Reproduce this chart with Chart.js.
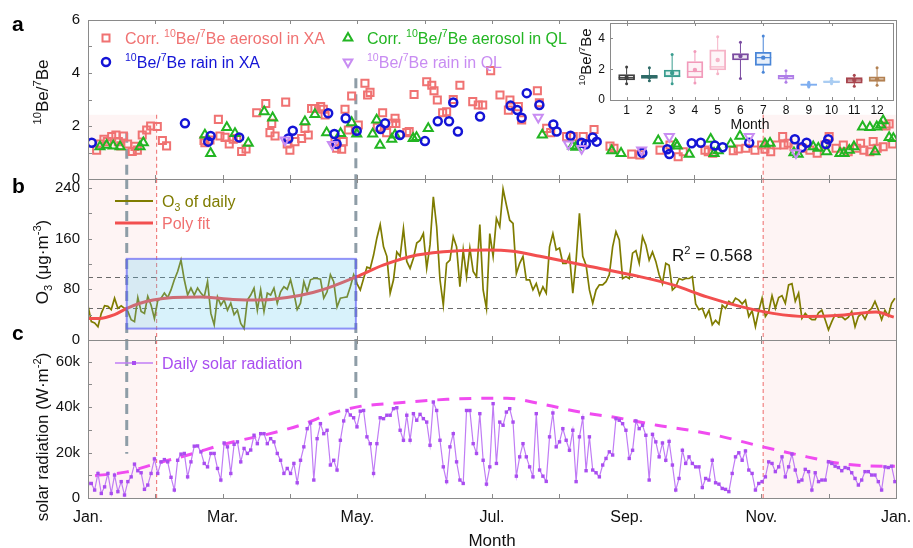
<!DOCTYPE html>
<html lang="en">
<head>
<meta charset="UTF-8">
<title>10Be/7Be, O3 and solar radiation</title>
<script src="https://cdn.jsdelivr.net/npm/chart.js@4.4.1/dist/chart.umd.min.js"></script>
<style>
  html, body { margin: 0; padding: 0; background: #fff; }
  .wrap { position: relative; width: 913px; height: 548px; overflow: hidden; }
  .wrap canvas { position: absolute; left: 0; top: 0; }
</style>
</head>
<body>
<div class="wrap">
  <canvas id="panelA" width="913" height="548"></canvas>
  <canvas id="panelB" width="913" height="548"></canvas>
  <canvas id="panelC" width="913" height="548"></canvas>
  <canvas id="inset" width="913" height="548"></canvas>
</div>
<script>
// ---- x axis: day of year, one tick per month ----
const YEAR_DAYS = 365;
const X_TICK_LABELS = ['Jan.', '', 'Mar.', '', 'May.', '', 'Jul.', '', 'Sep.', '', 'Nov.', '', 'Jan.'];

// ---- panel a: 10Be/7Be ratios, [day, ratio] ----
const aerosolXA = [[3.9,1.09],[5.4,1.32],[7.2,1.50],[8.7,1.41],[10.7,1.60],[12.6,1.66],[13.7,1.41],[14.8,1.25],[16.0,1.62],[17.9,1.32],[20.0,1.04],[21.2,1.23],[22.3,1.09],[24.5,1.66],[26.5,1.85],[28.3,2.00],[31.3,1.98],[33.6,1.45],[35.5,1.25],
  [52.4,1.45],[52.8,1.37],[55.1,1.47],[58.9,2.25],[59.6,1.62],[61.9,1.57],[63.8,1.32],[65.6,1.50],[67.2,1.53],[69.4,1.04],[71.4,1.13],[76.2,2.50],[80.3,2.85],[82.2,1.75],[83.0,2.10],[84.5,1.62],[89.3,2.90],[90.0,1.32],[91.2,1.09],[93.5,1.41],
  [96.5,1.53],[98.0,1.91],[99.5,1.66],[101.0,2.66],[102.5,2.66],[105.1,2.73],[106.3,2.63],[107.1,2.42],[111.6,1.41],[112.3,1.16],[114.6,1.12],[115.3,1.41],[116.1,2.63],[117.6,1.85],[119.1,3.13],[122.1,2.04],[125.1,3.61],[126.3,3.17],[127.4,3.27],[130.7,1.95],[133.1,2.50],[134.9,1.75],[137.6,2.10],[138.7,2.29],[139.1,2.10],[144.0,1.75],[145.1,1.79],[147.3,3.19],[153.0,3.67],[155.3,3.54],[156.3,3.33],[157.8,2.98],[160.2,2.50],[162.0,2.54],[165.0,3.00],[168.0,3.54],[173.8,2.92],[176.3,2.79],[178.3,2.79],[181.9,4.09],[186.1,3.17],[189.9,2.60],[190.6,2.98],[194.4,2.73],[195.9,2.23],[203.0,3.33],[203.9,2.88],[207.2,1.91],[209.0,1.75],[216.2,1.60],[219.2,1.60],[223.7,1.60],[228.6,1.87],[235.8,1.24],[237.6,1.16],
  [245.6,0.94],[249.3,0.91],[258.4,1.09],[262.9,1.28],[266.6,0.84],[268.9,1.03],[278.7,1.09],[280.2,1.03],[282.2,0.97],[291.5,1.07],[293.7,1.13],[297.2,1.16],[301.3,1.09],[304.3,1.28],[305.8,1.12],[308.4,1.03],[311.1,1.28],[313.8,1.60],[314.4,1.28],[316.3,1.35],[318.9,1.22],[322.8,1.16],[326.1,1.09],[329.4,0.97],[332.9,1.28],[334.8,1.60],[337.9,1.16],[341.2,1.28],[343.4,1.03],[347.2,1.16],[349.0,1.35],[350.5,1.09],[353.2,1.03],[354.7,1.41],[356.5,1.16],[359.2,1.22],[360.5,2.00],[361.9,2.08],[363.5,1.32]];
const rainXA = [[1.7,1.37],[43.8,2.10],[54.3,1.41],[55.4,1.62],[68.3,1.57],[90.5,1.53],[92.5,1.82],[108.5,2.48],[111.3,1.70],[112.3,1.32],[116.4,2.29],[121.4,1.82],[132.2,1.89],[134.2,2.10],[140.9,1.66],[152.2,1.43],[158.0,2.18],[163.1,2.18],[165.0,2.89],[167.1,1.79],[177.1,2.36],[190.9,2.77],[193.9,2.60],[195.9,2.31],[198.2,3.24],[203.9,2.79],[210.2,2.06],[211.7,1.79],[218.0,1.63],[223.0,1.37],[224.9,1.31],[228.0,1.57],[229.8,1.41],[250.4,0.99],[261.7,1.12],[262.6,0.94],[272.7,1.35],[276.8,1.37],[283.2,1.26],[286.7,1.20],[298.7,1.37],[319.3,1.50],[322.4,1.20],[324.6,1.37],[333.4,1.32],[334.4,1.50]];
const aerosolQL = [[5.4,1.22],[8.4,1.28],[11.4,1.25],[14.5,1.22],[23.5,1.22],[25.0,1.37],[52.8,1.66],[55.4,0.97],[62.7,1.95],[66.4,1.72],[72.4,1.35],[79.6,2.54],[83.4,2.31],[98.0,2.16],[102.5,2.44],[107.8,1.75],[114.1,1.72],[119.1,2.13],[121.4,1.70],[128.6,1.70],[130.4,2.23],[131.9,1.28],[137.2,1.50],[138.7,1.66],[146.9,1.53],[148.4,1.57],[153.7,1.91],[205.2,1.66],[218.9,1.25],[220.4,1.20],[236.6,1.07],[240.8,0.97],[257.6,1.45],[265.5,1.32],[266.2,1.25],[271.6,0.94],[281.3,1.50],[282.8,0.97],[284.7,1.07],[290.3,1.32],[294.5,1.62],[305.8,1.32],[308.1,1.35],[318.9,0.99],[320.8,0.94],[327.6,1.22],[329.9,1.16],[333.7,1.03],[339.7,0.97],[341.5,0.97],[343.9,1.09],[346.0,1.22],[349.9,1.97],[353.2,1.95],[355.5,1.03],[356.3,1.97],[358.1,2.04],[359.2,2.20],[361.9,1.57],[363.8,1.53]];
const rainQL = [[89.0,1.47],[110.4,1.30],[203.4,2.33],[217.0,1.32],[223.0,1.15],[250.1,1.09],[262.6,1.60],[298.7,1.60],[319.8,0.99]];

// ---- panel b: O3 (ug/m3), one value every 1.5 days from Jan 1 ----
const O3_STEP_DAYS = 1.5;
const o3Daily = [54,29,27,21,42,54,53,48,66,50, 54,50,45,32,29,67,45,42,69,55, 34,62,66,74,67,79,95,108,126,95,
  71,82,71,82,74,68,92,42,24,68, 55,63,47,58,40,47,26,18,63,71, 82,47,79,45,74,71,82,58,76,84,
  80,95,74,48,58,92,76,95,97,97, 96,66,76,103,92,52,66,67,68,84, 103,89,79,97,115,113,134,161,182,147,
  132,74,95,139,132,176,124,113,129,153, 157,168,113,150,226,179,95,55,121,126, 163,147,84,142,100,145,108,100,182,79,
  50,168,132,192,179,238,213,189,184,105, 121,132,95,95,79,89,71,84,74,147, 168,142,145,121,121,134,74,126,200,132,
  118,79,58,79,87,87,92,103,147,171, 158,97,100,97,137,141,121,163,150,126, 139,124,103,89,121,118,79,84,97,95,
  97,97,100,57,48,50,36,47,24,31, 25,55,50,61,57,66,63,57,63,37, 46,21,46,66,37,45,70,50,67,70,
  58,87,89,61,74,34,42,36,32,32, 43,47,32,16,29,40,36,37,32,36, 45,21,37,42,33,45,50,61,48,32, 47,38,58,66];
// polynomial fit, [day, O3]
const o3Fit = [[0,34],[5,34],[12,40],[17.6,50],[23.5,58],[29.4,63],[38.4,67],[50.6,68],[65.5,64],[77.7,63],[89.9,67],[101.6,75],[110.7,85],[121.5,100],[133.3,118],[148.6,134],[168,141],[180,142],[192,140],[204.2,132],[226.8,116],[249.3,100],[264.2,87],[279.6,68],[294.5,53],[309.4,42],[324.8,37],[339.7,39],[348,42],[356,44],[364,36]];
const O3_GUIDES = [100, 50];
const O3_WINDOW = { from: 17.5, to: 121, low: 18, high: 128 };
const R2_TEXT = '0.568';

// ---- panel c: solar radiation in thousands of W/m2, every 1.5 days ----
const SOLAR_STEP_DAYS = 1.5;
const solarKilo = [6.4,6.4,3.5,10.8,2.0,4.9,10.8,2.0,10.1,2.8, 7.2,1.3,7.2,9.3,14.9,12.0,11.1,3.8,5.7,10.8,
  17.2,10.8,15.9,16.9,15.9,9.1,3.5,16.6,19.3,19.6, 9.3,15.9,22.8,22.9,20.3,15.2,13.7,19.6,19.6,13.0,
  7.9,24.2,22.5,10.8,23.6,24.7,15.9,21.8,19.6,21.1, 27.6,23.9,28.3,28.3,23.9,26.1,24.7,19.6,16.6,10.8,
  13.0,10.8,15.2,6.7,16.6,22.5,30.5,33.0,7.9,26.1, 32.7,28.3,29.8,14.5,16.6,12.3,25.4,33.9,38.5,36.5,
  35.3,31.3,38.2,38.5,26.9,23.9,10.8,23.9,35.3,34.9, 36.4,36.4,39.3,39.7,29.8,25.4,36.4,25.4,37.1,34.2,
  36.8,34.9,33.4,23.2,42.2,38.5,25.4,13.7,7.2,22.5, 28.3,15.9,7.9,6.4,38.5,38.5,23.9,19.6,37.1,16.6,
  6.1,13.7,41.5,15.2,33.4,32.0,37.8,39.3,33.4,9.6, 18.1,23.9,18.1,13.7,9.3,37.1,12.3,9.6,7.3,26.9,
  37.4,22.5,24.7,30.5,25.4,21.0,29.8,7.2,26.9,35.3, 12.0,26.9,12.3,11.1,9.3,14.5,17.4,20.3,18.9,34.9,
  34.2,32.7,29.8,17.4,21.0,33.9,30.5,32.0,27.6,7.9, 28.0,24.7,18.1,24.2,16.6,24.9,14.5,3.5,8.6,21.0,
  15.2,18.1,15.2,13.7,13.7,4.6,8.6,7.9,16.6,6.7, 6.1,4.2,3.8,2.8,10.8,18.1,19.9,16.6,20.7,12.3,
  10.8,3.5,6.4,7.2,9.3,15.9,15.2,11.6,13.7,18.1, 9.3,13.7,19.3,12.3,7.2,7.9,12.6,11.6,3.5,11.1,
  7.2,7.9,7.9,15.9,15.2,14.0,13.4,12.0,13.4,13.0, 11.1,8.6,5.7,7.9,11.6,11.6,10.1,10.1,7.2,3.5, 13.7,13.4,14.0,7.2];
// upper envelope, [day, kW/m2]
const solarEnvelope = [[3.2,9.8],[17.6,11.5],[31.2,15.3],[44.7,18.8],[62.8,24],[80.9,28],[95.8,32],[110.7,37.4],[122.9,40.3],[137.8,41.7],[162.2,43.4],[180.2,43.9],[189.3,43.9],[204.2,41.5],[222.2,37.8],[239,35.3],[257,32],[272,29.8],[286.8,26.9],[304.9,22.5],[324.8,18.1],[339.7,15.2],[353.2,14.1],[364.5,14.0]];

// ---- shared markers: cold-season bands and the two period dividers (days) ----
const COLD_BANDS = [[0, 31], [305, 365]];
const DIVIDERS = [17.5, 121];

// ---- inset: monthly box plot of 10Be/7Be ----
const boxMonths = [1,2,3,4,5,6,7,8,9,10,11,12];
const boxQ1     = [1.30,1.40,1.50,1.45,1.95,2.60,2.25,1.35,0.95,1.12,1.10,1.20];
const boxMedian = [1.45,1.50,1.55,1.85,2.15,2.95,2.75,1.55,1.00,1.20,1.30,1.30];
const boxQ3     = [1.65,1.60,1.95,2.50,3.25,3.02,3.10,1.60,1.05,1.25,1.45,1.50];
const boxLow    = [1.05,1.25,1.05,1.10,1.70,1.40,1.80,1.15,0.85,1.05,0.90,0.95];
const boxHigh   = [2.15,2.10,2.95,3.15,4.10,3.75,4.15,1.90,1.15,1.40,1.60,2.10];
const boxMean   = [1.45,1.50,1.75,1.95,2.60,2.85,2.75,1.50,0.98,1.20,1.30,1.35];
const boxColors = ['#404040','#2f6b68','#3a9d8f','#f29bbb','#f6b3c7','#7a4ba0','#4a86d8','#b07ee8','#7faef0','#aacdf2','#a8464e','#b38152'];

// ---- styles ----
const FONT = '"Liberation Sans", Arial, Helvetica, sans-serif';
Chart.defaults.font.family = FONT;
Chart.defaults.color = '#111';
const COL = {
  aerosolXA: '#f07272', rainXA: '#1414d6', aerosolQL: '#22b522', rainQL: '#c88cf2',
  o3: '#7f7c00', fit: '#f24f4f', fitText: '#f07070', solar: '#c07cf5', solarPt: '#a94df0',
  envelope: '#f04cf0', frame: '#8a8a8a', divider: '#8e9da7'
};
const BE_RATIO = [['10', 'sup'], ['Be/'], ['7', 'sup'], ['Be']];
const NO_GRID = { display: false, drawTicks: false };

const pairs = arr => arr.map(([x, y]) => ({ x, y }));
const stepped = (arr, step) => arr.map((y, i) => ({ x: i * step, y }));
const X_TICK_DAYS = X_TICK_LABELS.map((_, i) => i * YEAR_DAYS / 12);

// text with super/subscripts, y is the baseline
function richWidth(ctx, parts, size) {
  let w = 0;
  parts.forEach(([t, m]) => { ctx.font = (m ? size * 0.66 : size) + 'px ' + FONT; w += ctx.measureText(t).width; });
  return w;
}
function drawRich(ctx, parts, x, y, size, color, center) {
  ctx.save();
  ctx.fillStyle = color;
  ctx.textAlign = 'left';
  ctx.textBaseline = 'alphabetic';
  let cx = center ? x - richWidth(ctx, parts, size) / 2 : x;
  parts.forEach(([t, m]) => {
    ctx.font = (m ? size * 0.66 : size) + 'px ' + FONT;
    const dy = m === 'sup' ? -size * 0.42 : m === 'sub' ? size * 0.24 : 0;
    ctx.fillText(t, cx, y + dy);
    cx += ctx.measureText(t).width;
  });
  ctx.restore();
}
function drawVertical(ctx, parts, cx, cy, size) {
  ctx.save();
  ctx.translate(cx, cy);
  ctx.rotate(-Math.PI / 2);
  drawRich(ctx, parts, 0, size * 0.36, size, '#111', true);
  ctx.restore();
}
function drawLetter(ctx, ch, x, y) {
  ctx.save();
  ctx.font = 'bold 21px ' + FONT;
  ctx.fillStyle = '#000';
  ctx.fillText(ch, x, y);
  ctx.restore();
}

// legend glyphs
function glyph(ctx, kind, x, y, color) {
  ctx.save();
  ctx.strokeStyle = color;
  ctx.lineWidth = 2;
  ctx.beginPath();
  if (kind === 'rect') ctx.rect(x - 3.5, y - 3.5, 7, 7);
  else if (kind === 'circle') { ctx.lineWidth = 2.5; ctx.arc(x, y, 4, 0, Math.PI * 2); }
  else {
    const r = 5, s = kind === 'down' ? -1 : 1;
    ctx.moveTo(x, y - s * r);
    ctx.lineTo(x + r * 0.866, y + s * r * 0.5);
    ctx.lineTo(x - r * 0.866, y + s * r * 0.5);
    ctx.closePath();
  }
  ctx.stroke();
  ctx.restore();
}
function legendLine(ctx, x0, x1, y, color, width, marker) {
  ctx.save();
  ctx.strokeStyle = color;
  ctx.lineWidth = width;
  ctx.beginPath(); ctx.moveTo(x0, y); ctx.lineTo(x1, y); ctx.stroke();
  if (marker) { ctx.fillStyle = marker; ctx.fillRect((x0 + x1) / 2 - 2, y - 2, 4, 4); }
  ctx.restore();
}

// box outline with inward ticks
function drawFrame(chart, xTicks, yTicks, len, topTicks) {
  const { ctx, chartArea: a, scales: { x, y } } = chart;
  ctx.save();
  ctx.strokeStyle = COL.frame;
  ctx.lineWidth = 1;
  ctx.strokeRect(a.left + 0.5, a.top + 0.5, a.right - a.left, a.bottom - a.top);
  ctx.beginPath();
  xTicks.forEach(v => {
    const px = Math.round(x.getPixelForValue(v)) + 0.5;
    ctx.moveTo(px, a.bottom); ctx.lineTo(px, a.bottom - len);
  });
  (topTicks || xTicks).forEach(v => {
    const px = Math.round(x.getPixelForValue(v)) + 0.5;
    ctx.moveTo(px, a.top); ctx.lineTo(px, a.top + len);
  });
  yTicks.forEach(v => {
    const py = Math.round(y.getPixelForValue(v)) + 0.5;
    ctx.moveTo(a.left, py); ctx.lineTo(a.left + len, py);
  });
  ctx.stroke();
  ctx.restore();
}

// shading, guide lines and dividers behind the data of one panel
function panelBackdrop(opts) {
  return {
    id: 'backdrop',
    beforeDatasetsDraw(chart) {
      const { ctx, chartArea: a, scales: { x, y } } = chart;
      ctx.save();
      const shadeTop = y.getPixelForValue(opts.shadeTop != null ? opts.shadeTop : y.max);
      ctx.fillStyle = 'rgba(240,130,130,0.09)';
      COLD_BANDS.forEach(([d0, d1]) => {
        const x0 = x.getPixelForValue(d0), x1 = x.getPixelForValue(d1);
        ctx.fillRect(x0, shadeTop, x1 - x0, a.bottom - shadeTop);
      });
      ctx.strokeStyle = '#f07878';
      ctx.lineWidth = 1.1;
      ctx.setLineDash([4, 3]);
      ctx.beginPath();
      [COLD_BANDS[0][1], COLD_BANDS[1][0]].forEach(d => {
        const px = x.getPixelForValue(d);
        ctx.moveTo(px, shadeTop); ctx.lineTo(px, a.bottom);
      });
      ctx.stroke();
      if (opts.guides) {
        ctx.strokeStyle = '#6a6a6a';
        ctx.lineWidth = 1;
        ctx.setLineDash([5, 4]);
        ctx.beginPath();
        opts.guides.forEach(v => {
          const py = Math.round(y.getPixelForValue(v)) + 0.5;
          ctx.moveTo(a.left, py); ctx.lineTo(a.right, py);
        });
        ctx.stroke();
      }
      ctx.strokeStyle = COL.divider;
      ctx.lineWidth = 3;
      ctx.setLineDash([10, 6]);
      ctx.beginPath();
      DIVIDERS.forEach((d, i) => {
        const [v0, v1] = opts.dividerSpan[i];
        const px = x.getPixelForValue(d);
        ctx.moveTo(px, y.getPixelForValue(v1)); ctx.lineTo(px, y.getPixelForValue(v0));
      });
      ctx.stroke();
      ctx.restore();
    }
  };
}

function panelOptions(padding, yMin, yMax, yTicks, yLabel, showX) {
  return {
    responsive: false,
    animation: false,
    events: [],
    layout: { padding },
    plugins: { legend: { display: false }, tooltip: { enabled: false } },
    scales: {
      x: {
        type: 'linear', min: 0, max: YEAR_DAYS, display: showX,
        grid: NO_GRID, border: { display: false },
        afterBuildTicks: s => { s.ticks = X_TICK_DAYS.map(v => ({ value: v })); },
        afterFit: s => {
          s.height = showX ? 50 : 0;
          // the last month label may hang past the plot edge
          s.paddingLeft = 0; s.paddingRight = 0;
        },
        ticks: { autoSkip: false, maxRotation: 0, padding: 10, font: { size: 16 }, color: '#111',
          callback: (v, i) => X_TICK_LABELS[i] }
      },
      y: {
        type: 'linear', min: yMin, max: yMax,
        grid: NO_GRID, border: { display: false },
        afterBuildTicks: s => { s.ticks = yTicks.map(v => ({ value: v })); },
        afterFit: s => { s.width = 88; },
        ticks: { padding: 8, font: { size: 15 }, color: '#111', callback: yLabel }
      }
    }
  };
}

// ---------------- panel a ----------------
const ticksA = [0, 1, 2, 3, 4, 5, 6];
const scatterSet = (data, style, radius, color, rotation, width) => ({
  type: 'scatter', data: pairs(data), pointStyle: style, pointRadius: radius, rotation: rotation || 0,
  pointBorderColor: color, pointBackgroundColor: 'rgba(255,255,255,0)', pointBorderWidth: width || 2
});
new Chart(document.getElementById('panelA'), {
  type: 'scatter',
  data: {
    datasets: [
      scatterSet(rainQL, 'triangle', 5.2, COL.rainQL, 180),
      scatterSet(rainXA, 'circle', 4, COL.rainXA, 0, 2.5),
      scatterSet(aerosolQL, 'triangle', 5.2, COL.aerosolQL),
      scatterSet(aerosolXA, 'rect', 5, COL.aerosolXA)
    ]
  },
  options: panelOptions({ left: 0, right: 17, top: 20, bottom: 548 - 179 }, 0, 6, ticksA,
    v => (v % 2 === 0 ? String(v) : ''), false),
  plugins: [panelBackdrop({ shadeTop: 2.42, dividerSpan: [[0, 1.75], [0, 3.8]] }), {
    id: 'decorA',
    afterDraw(chart) {
      const ctx = chart.ctx;
      drawFrame(chart, X_TICK_DAYS, ticksA, 4);
      drawVertical(ctx, BE_RATIO, 42, 92, 17);
      drawLetter(ctx, 'a', 12, 31);
      glyph(ctx, 'rect', 106, 38, COL.aerosolXA);
      drawRich(ctx, [['Corr. '], ...BE_RATIO, [' aerosol in XA']], 125, 44, 16, COL.aerosolXA);
      glyph(ctx, 'up', 348, 38, COL.aerosolQL);
      drawRich(ctx, [['Corr. '], ...BE_RATIO, [' aerosol in QL']], 367, 44, 16, COL.aerosolQL);
      glyph(ctx, 'circle', 106, 62, COL.rainXA);
      drawRich(ctx, [...BE_RATIO, [' rain in XA']], 125, 68, 16, COL.rainXA);
      glyph(ctx, 'down', 348, 62, COL.rainQL);
      drawRich(ctx, [...BE_RATIO, [' rain in QL']], 367, 68, 16, COL.rainQL);
    }
  }]
});

// ---------------- panel b ----------------
const ticksB = [0, 40, 80, 120, 160, 200, 240];
new Chart(document.getElementById('panelB'), {
  type: 'line',
  data: {
    datasets: [
      { data: pairs(o3Fit), borderColor: COL.fit, borderWidth: 3, pointRadius: 0, tension: 0.4, cubicInterpolationMode: 'monotone' },
      { data: stepped(o3Daily, O3_STEP_DAYS), borderColor: COL.o3, borderWidth: 1.7, pointRadius: 0, tension: 0 }
    ]
  },
  options: panelOptions({ left: 0, right: 17, top: 179, bottom: 548 - 340 }, 0, 254, ticksB,
    v => (v % 80 === 0 ? String(v) : ''), false),
  plugins: [panelBackdrop({ guides: O3_GUIDES, dividerSpan: [[0, 254], [0, 254]] }), {
    id: 'decorB',
    afterDatasetsDraw(chart) {
      // highlighted window over the first part of the year
      const { ctx, scales: { x, y } } = chart;
      const x0 = x.getPixelForValue(O3_WINDOW.from), x1 = x.getPixelForValue(O3_WINDOW.to);
      const y0 = y.getPixelForValue(O3_WINDOW.high), y1 = y.getPixelForValue(O3_WINDOW.low);
      ctx.save();
      ctx.fillStyle = 'rgba(90,200,238,0.24)';
      ctx.fillRect(x0, y0, x1 - x0, y1 - y0);
      ctx.strokeStyle = 'rgba(90,90,245,0.65)';
      ctx.lineWidth = 2;
      ctx.strokeRect(x0, y0, x1 - x0, y1 - y0);
      ctx.restore();
    },
    afterDraw(chart) {
      const ctx = chart.ctx;
      drawFrame(chart, X_TICK_DAYS, ticksB, 4);
      drawVertical(ctx, [['O'], ['3', 'sub'], [' (\u03bcg\u00b7m'], ['-3', 'sup'], [')']], 42, 262, 17);
      drawLetter(ctx, 'b', 12, 193);
      legendLine(ctx, 115, 153, 201, COL.o3, 2);
      drawRich(ctx, [['O'], ['3', 'sub'], [' of daily']], 162, 207, 16, COL.o3);
      legendLine(ctx, 115, 153, 223, COL.fit, 3);
      drawRich(ctx, [['Poly fit']], 162, 229, 16, COL.fitText);
      drawRich(ctx, [['R'], ['2', 'sup'], [' = ' + R2_TEXT]], 672, 261, 17, '#111');
    }
  }]
});

// ---------------- panel c ----------------
const ticksC = [0, 10, 20, 30, 40, 50, 60];
new Chart(document.getElementById('panelC'), {
  type: 'line',
  data: {
    datasets: [
      { data: stepped(solarKilo, SOLAR_STEP_DAYS), borderColor: COL.solar, borderWidth: 1.2, tension: 0,
        pointStyle: 'rect', pointRadius: 2.4, pointBackgroundColor: COL.solarPt, pointBorderWidth: 0 },
      { data: pairs(solarEnvelope), borderColor: COL.envelope, borderWidth: 3, borderDash: [12, 10],
        pointRadius: 0, tension: 0.4, cubicInterpolationMode: 'monotone' }
    ]
  },
  options: panelOptions({ left: 0, right: 17, top: 340, bottom: 0 }, 0, 69.5, ticksC,
    v => (v === 0 ? '0' : v % 20 === 0 ? v + 'k' : ''), true),
  plugins: [panelBackdrop({ dividerSpan: [[19.5, 69.5], [42, 69.5]] }), {
    id: 'decorC',
    afterDraw(chart) {
      const ctx = chart.ctx;
      drawFrame(chart, X_TICK_DAYS, ticksC, 4);
      drawVertical(ctx, [['solar radiation (W\u00b7m'], ['-2', 'sup'], [')']], 42, 437, 17);
      drawLetter(ctx, 'c', 12, 340);
      legendLine(ctx, 115, 153, 363, COL.solar, 1.3, COL.solarPt);
      drawRich(ctx, [['Daily solar radiation']], 162, 369, 16, COL.solarPt);
      drawRich(ctx, [['Month']], 492, 546, 17, '#111', true);
    }
  }]
});

// ---------------- inset ----------------
const insetTicksY = [0, 2, 4];
new Chart(document.getElementById('inset'), {
  type: 'bar',
  data: {
    datasets: [
      { type: 'scatter', data: boxMonths.map((m, i) => ({ x: m, y: boxMean[i] })),
        pointRadius: 2.2, pointBorderWidth: 0, pointBackgroundColor: boxColors },
      { type: 'scatter', data: boxMonths.flatMap((m, i) => [{ x: m, y: boxLow[i] }, { x: m, y: boxHigh[i] }]),
        pointRadius: 1.5, pointBorderWidth: 0, pointBackgroundColor: boxColors.flatMap(c => [c, c]) },
      { data: boxMonths.map((m, i) => ({ x: m, y: [boxQ1[i], boxQ3[i]] })), barThickness: 16,
        backgroundColor: boxColors.map(c => c + '22'), borderColor: boxColors, borderWidth: 1.2, borderSkipped: false }
    ]
  },
  options: {
    responsive: false,
    animation: false,
    events: [],
    layout: { padding: { left: 560, right: 20, top: 23, bottom: 548 - 100 - 30 } },
    plugins: { legend: { display: false }, tooltip: { enabled: false } },
    scales: {
      x: {
        type: 'linear', min: 0.27, max: 12.7, offset: false,
        grid: NO_GRID, border: { display: false },
        afterBuildTicks: s => { s.ticks = boxMonths.map(v => ({ value: v })); },
        afterFit: s => { s.height = 30; },
        ticks: { autoSkip: false, maxRotation: 0, padding: 3, font: { size: 12 }, color: '#111', callback: v => String(v) }
      },
      y: {
        type: 'linear', min: 0, max: 5,
        grid: NO_GRID, border: { display: false },
        afterBuildTicks: s => { s.ticks = insetTicksY.map(v => ({ value: v })); },
        afterFit: s => { s.width = 50; },
        ticks: { padding: 5, font: { size: 12 }, color: '#111' }
      }
    }
  },
  plugins: [{
    id: 'boxParts',
    beforeDraw(chart) {
      const { ctx, chartArea: a } = chart;
      ctx.save();
      ctx.fillStyle = '#fff';
      ctx.fillRect(a.left, a.top, a.right - a.left, a.bottom - a.top);
      ctx.restore();
    },
    beforeDatasetsDraw(chart) {
      // whiskers from the box edges to the extremes
      const { ctx, scales: { x, y } } = chart;
      ctx.save();
      ctx.lineWidth = 1;
      boxMonths.forEach((m, i) => {
        const px = x.getPixelForValue(m);
        ctx.strokeStyle = boxColors[i];
        ctx.beginPath();
        ctx.moveTo(px, y.getPixelForValue(boxLow[i])); ctx.lineTo(px, y.getPixelForValue(boxQ1[i]));
        ctx.moveTo(px, y.getPixelForValue(boxQ3[i])); ctx.lineTo(px, y.getPixelForValue(boxHigh[i]));
        ctx.stroke();
      });
      ctx.restore();
    },
    afterDatasetsDraw(chart) {
      const { ctx, scales: { x, y } } = chart;
      ctx.save();
      ctx.lineWidth = 1.2;
      boxMonths.forEach((m, i) => {
        const px = x.getPixelForValue(m), py = y.getPixelForValue(boxMedian[i]);
        ctx.strokeStyle = boxColors[i];
        ctx.beginPath(); ctx.moveTo(px - 8, py); ctx.lineTo(px + 8, py); ctx.stroke();
      });
      ctx.restore();
    },
    afterDraw(chart) {
      const ctx = chart.ctx;
      drawFrame(chart, boxMonths, insetTicksY, 3, [1, 4, 7, 10]);
      drawVertical(ctx, BE_RATIO, 586, 57, 15);
      drawRich(ctx, [['Month']], 750, 129, 14, '#111', true);
    }
  }]
});
</script>
</body>
</html>
